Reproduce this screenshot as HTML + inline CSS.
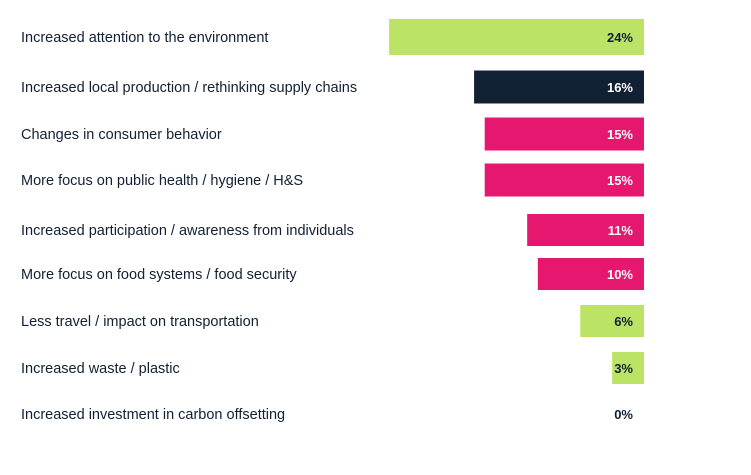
<!DOCTYPE html>
<html><head><meta charset="utf-8"><style>
body{margin:0;background:#fff;width:751px;height:470px;overflow:hidden;font-family:"Liberation Sans",sans-serif}
svg text{font-family:"Liberation Sans",sans-serif}
</style></head><body>
<svg id="chart" width="751" height="470" xmlns="http://www.w3.org/2000/svg"></svg>
<script>
const categories=["Increased attention to the environment","Increased local production / rethinking supply chains","Changes in consumer behavior","More focus on public health / hygiene / H&S","Increased participation / awareness from individuals","More focus on food systems /  food security","Less travel / impact on transportation","Increased waste / plastic","Increased investment in carbon offsetting"];
const values=[24,16,15,15,11,10,6,3,0];
const colorKeys=["green","navy","pink","pink","pink","pink","green","green","green"];
const palette={green:"#bde366",navy:"#112033",pink:"#e5176e"};
const textPalette={green:"#112033",navy:"#ffffff",pink:"#ffffff"};
const rowCenters=[37,87,134,180,230,274,321,368,414];
const rowHeights=[36,33,33,33,32,32,32,32,32];
const right=644, pxPerUnit=10.62;
const x=v=>right-v*pxPerUnit;
const svg=document.getElementById('chart');
const NS="http://www.w3.org/2000/svg";
categories.forEach((c,i)=>{
  const cy=rowCenters[i];
  const t=document.createElementNS(NS,'text');
  
  
  t.setAttribute('x',21);t.setAttribute('y',cy+5);
  t.setAttribute('font-size','14.5');t.setAttribute('fill','#112033');
  t.textContent=c;svg.appendChild(t);
  const v=values[i];
  if(v>0){
    const r=document.createElementNS(NS,'rect');
    
    
    r.setAttribute('x',x(v));r.setAttribute('y',cy-rowHeights[i]/2);
    r.setAttribute('width',right-x(v));r.setAttribute('height',rowHeights[i]);
    r.setAttribute('fill',palette[colorKeys[i]]);
    svg.appendChild(r);
  }
  const vt=document.createElementNS(NS,'text');
  
  
  vt.setAttribute('x',633);vt.setAttribute('y',cy+5);
  vt.setAttribute('text-anchor','end');vt.setAttribute('font-size','13');vt.setAttribute('font-weight','bold');
  vt.setAttribute('fill',v>0?textPalette[colorKeys[i]]:"#112033");
  vt.textContent=v+"%";svg.appendChild(vt);
});
</script>
</body></html>
